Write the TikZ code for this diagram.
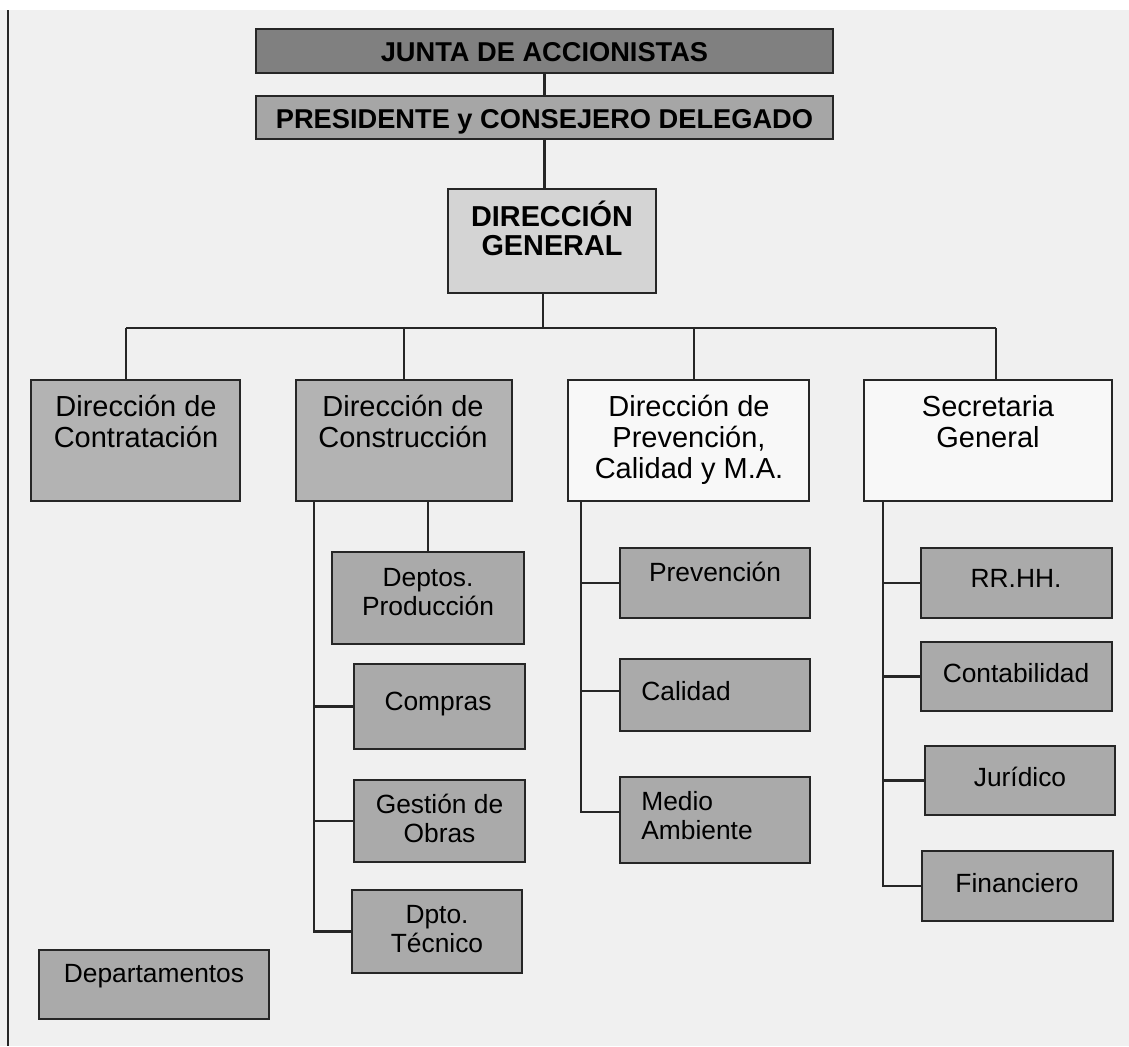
\documentclass[tikz,border=0pt]{standalone}
\usepackage{fontspec}
\setmainfont{Liberation Sans}
\usetikzlibrary{positioning, calc}

\definecolor{fondo}{HTML}{F0F0F0}
\definecolor{grisjunta}{HTML}{808080}
\definecolor{grispres}{HTML}{A6A6A6}
\definecolor{grisdg}{HTML}{D4D4D4}
\definecolor{grisdir}{HTML}{B3B3B3}
\definecolor{grisdep}{HTML}{AAAAAA}
\definecolor{blanco}{HTML}{F8F8F8}

\begin{document}
\begin{tikzpicture}[x=0.02cm, y=-0.02cm,
    caja/.style={draw=black!85, line width=1.3pt, inner sep=0pt},
    enlace/.style={black!85, line width=1.2pt},
    negrita/.style={inner sep=0pt, anchor=base, align=center, font=\fontsize{15.5}{16.5}\selectfont\bfseries},
    rotulo/.style={inner sep=0pt, anchor=base, align=center, font=\fontsize{16.5}{17.6}\selectfont},
    subrotulo/.style={inner sep=0pt, anchor=base, align=center, font=\fontsize{15}{16.2}\selectfont}]

    \useasboundingbox (0,0) rectangle (1129,1046);
    % fondo de la pagina
    \fill[white] (0,0) rectangle (1129,1046);
    \fill[fondo] (0,10) rectangle (1129,1046);
    \draw[enlace] (8,10) -- (8,1046);

    % Junta y presidencia
    \node[caja, fill=grisjunta, minimum width=11.54cm, minimum height=0.88cm] (junta) at (544.5,51) {};
    \node[negrita] (junta-t) at (544.5,61.7) {JUNTA DE ACCIONISTAS};
    \node[caja, fill=grispres, minimum width=11.54cm, minimum height=0.86cm] (pres) at (544.5,117.5) {};
    \node[negrita] (pres-t) at (544.5,128.7) {PRESIDENTE y CONSEJERO DELEGADO};

    % Direccion general (base = ultima linea)
    \node[caja, fill=grisdg, minimum width=4.16cm, minimum height=2.08cm] (dg) at (552,241) {};
    \node[negrita, font=\fontsize{16.4}{16.5}\selectfont\bfseries] (dg-t) at (552,255) {DIRECCIÓN\\GENERAL};

    % Direcciones
    \node[caja, fill=grisdir, minimum width=4.18cm, minimum height=2.42cm] (contr) at (135.5,440.5) {};
    \node[rotulo] (contr-t) at (136,447.5) {Dirección de\\Contratación};
    \node[caja, fill=grisdir, minimum width=4.32cm, minimum height=2.42cm] (constr) at (404,440.5) {};
    \node[rotulo] (constr-t) at (403,447.5) {Dirección de\\Construcción};
    \node[caja, fill=blanco, minimum width=4.82cm, minimum height=2.42cm] (prev) at (688.5,440.5) {};
    \node[rotulo] (prev-t) at (689,478.5) {Dirección de\\Prevención,\\Calidad y M.A.};
    \node[caja, fill=blanco, minimum width=4.96cm, minimum height=2.42cm] (secr) at (988,440.5) {};
    \node[rotulo] (secr-t) at (988,447.5) {Secretaria\\General};

    % Departamentos de construccion
    \node[caja, fill=grisdep, minimum width=3.84cm, minimum height=1.84cm] (prod) at (428,598) {};
    \node[subrotulo] (prod-t) at (428,615) {Deptos.\\Producción};
    \node[caja, fill=grisdep, minimum width=3.42cm, minimum height=1.70cm] (compras) at (439.5,706.5) {};
    \node[subrotulo] (compras-t) at (438,710.5) {Compras};
    \node[caja, fill=grisdep, minimum width=3.42cm, minimum height=1.64cm] (gestion) at (439.5,821) {};
    \node[subrotulo] (gestion-t) at (439.5,842) {Gestión de\\Obras};
    \node[caja, fill=grisdep, minimum width=3.40cm, minimum height=1.66cm] (tecnico) at (437,931.5) {};
    \node[subrotulo] (tecnico-t) at (437,952) {Dpto.\\Técnico};

    % Prevencion, calidad y medio ambiente
    \node[caja, fill=grisdep, minimum width=3.80cm, minimum height=1.40cm] (prevn) at (715,583) {};
    \node[subrotulo] (prevn-t) at (715,581.5) {Prevención};
    \node[caja, fill=grisdep, minimum width=3.80cm, minimum height=1.44cm] (calidad) at (715,695) {};
    \node[subrotulo, anchor=base west] (calidad-t) at (641,700.5) {Calidad};
    \node[caja, fill=grisdep, minimum width=3.80cm, minimum height=1.72cm] (medio) at (715,820) {};
    \node[subrotulo, anchor=base west, align=left] (medio-t) at (641,839) {Medio\\Ambiente};

    % Secretaria general
    \node[caja, fill=grisdep, minimum width=3.82cm, minimum height=1.40cm] (rrhh) at (1016.5,583) {};
    \node[subrotulo] (rrhh-t) at (1016,587.5) {RR.HH.};
    \node[caja, fill=grisdep, minimum width=3.82cm, minimum height=1.38cm] (conta) at (1016.5,676.5) {};
    \node[subrotulo] (conta-t) at (1016,682.5) {Contabilidad};
    \node[caja, fill=grisdep, minimum width=3.80cm, minimum height=1.38cm] (juri) at (1020,780.5) {};
    \node[subrotulo] (juri-t) at (1020,786.5) {Jurídico};
    \node[caja, fill=grisdep, minimum width=3.82cm, minimum height=1.40cm] (finan) at (1017.5,886) {};
    \node[subrotulo] (finan-t) at (1017,892.5) {Financiero};

    % Leyenda
    \node[caja, fill=grisdep, minimum width=4.60cm, minimum height=1.38cm] (leyenda) at (154,984.5) {};
    \node[subrotulo] (leyenda-t) at (154,982.5) {Departamentos};

    % Conexiones
    \draw[enlace] (junta) -- (pres);
    \draw[enlace] (pres.south) -- (pres.south |- dg.north);
    \coordinate (bus) at (543,328);
    \coordinate (b1) at (126,328);
    \coordinate (b2) at (404,328);
    \coordinate (b3) at (694,328);
    \coordinate (b4) at (996,328);
    \draw[enlace] (bus |- dg.south) -- (bus);
    \draw[enlace] (b1) -- (b4);
    \foreach \b/\n in {b1/contr, b2/constr, b3/prev, b4/secr}
        \draw[enlace] (\b) -- (\b |- \n.north);

    \draw[enlace] (prod.north) -- (prod.north |- constr.south);
    \coordinate (cv) at (314,501);
    \foreach \n in {compras, gestion, tecnico}
        \draw[enlace] (cv) |- (\n.west);

    \coordinate (pv) at (581,501);
    \draw[enlace] (pv) |- (prevn.west);
    \draw[enlace] (pv) |- ([yshift=0.08cm]calidad.west);
    \draw[enlace] (pv) |- ([yshift=0.16cm]medio.west);

    \coordinate (sv) at (883,501);
    \foreach \n in {rrhh, conta, juri, finan}
        \draw[enlace] (sv) |- (\n.west);
\end{tikzpicture}
\end{document}
